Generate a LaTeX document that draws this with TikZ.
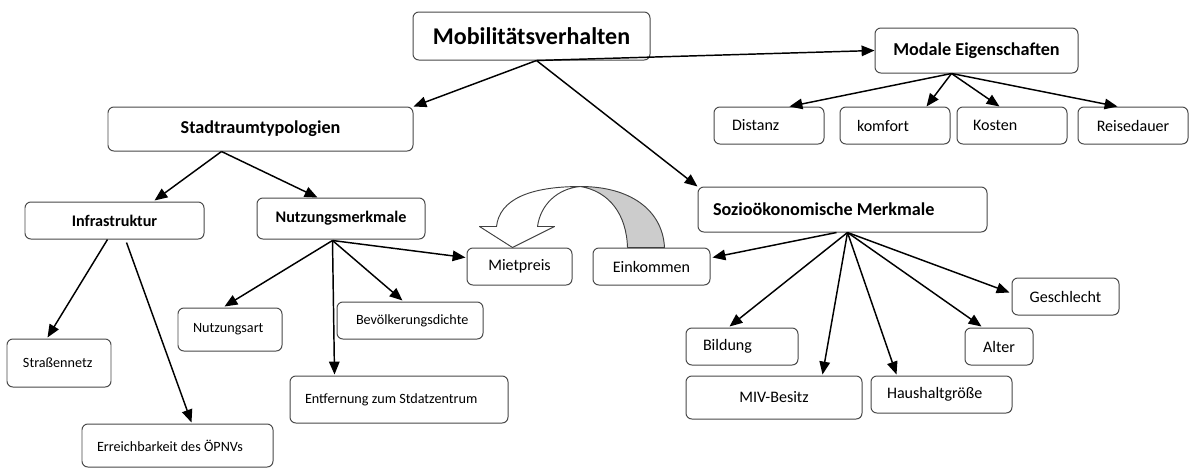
\documentclass[tikz,border=0pt]{standalone}
\usepackage{fontspec}
\setmainfont{Carlito}
\usetikzlibrary{arrows.meta,calc}
\begin{document}
\begin{tikzpicture}[x=0.03cm,y=-0.03cm,
  box/.style={draw=black!72,line width=0.85pt,rounded corners=5pt,fill=white,inner ysep=0pt},
  reg/.style={font=\fontsize{13.7}{16}\selectfont},
  sml/.style={font=\fontsize{12.1}{14.5}\selectfont},
  big/.style={font=\fontsize{20.5}{24}\selectfont\bfseries},
  head/.style={font=\fontsize{15.5}{18.5}\selectfont\bfseries},
  sub/.style={font=\fontsize{13.8}{16.5}\selectfont\bfseries},
  arr/.style={-{Triangle[length=11pt,width=9pt]},line width=1.25pt,black},
  arrowline/.style={draw=black!75,line width=0.8pt,line join=round}]
\useasboundingbox (0,0) rectangle (1194,469);
\newcommand\bx[9]{% style, name, x1,y1,x2,y2, pad, align (l/c), text
  \pgfmathsetmacro\tw{(#5-#3-2*#7)*0.03}%
  \pgfmathsetmacro\th{(#6-#4)*0.03}%
  \pgfmathsetmacro\px{#7*0.03}%
  \node[box,#1,inner xsep=\px cm,minimum height=\th cm]
    (#2) at ({(#3+#5)/2},{(#4+#6)/2}) {\makebox[\tw cm][#8]{#9}};}
% boxes
\bx{big}{mob}{413}{12}{650}{60}{8}{c}{Mobilitätsverhalten}
\bx{head}{stadt}{108}{107}{413}{151}{8}{c}{Stadtraumtypologien}
\bx{head}{mod}{875}{28}{1078}{73}{6}{c}{Modale Eigenschaften}
\bx{head}{sozio}{698}{187}{987}{232}{15}{l}{Sozioökonomische Merkmale}
\bx{reg}{dist}{714}{107}{824}{144}{18}{l}{Distanz}
\bx{reg}{komf}{840}{107}{950}{144}{17}{l}{komfort}
\bx{reg}{kost}{957}{107}{1067}{144}{16}{l}{Kosten}
\bx{reg}{reise}{1078}{107}{1188}{144}{6}{c}{Reisedauer}
\bx{sub}{infra}{25}{202}{204}{239}{6}{c}{Infrastruktur}
\bx{sub}{nutz}{257}{198}{425}{239}{6}{c}{Nutzungsmerkmale}
\bx{sml}{strasse}{7}{339}{111}{387}{16}{l}{Straßennetz}
\bx{sml}{erreich}{82}{424}{273}{467}{15}{l}{Erreichbarkeit des ÖPNVs}
\bx{sml}{nutzart}{178}{308}{282}{351}{15}{l}{Nutzungsart}
\bx{sml}{bev}{337}{302}{483}{339}{19}{l}{Bevölkerungsdichte}
\bx{sml}{entf}{290}{376}{508}{423}{15}{l}{Entfernung zum Stdatzentrum}
\bx{reg}{miet}{467}{248}{572}{285}{6}{c}{Mietpreis}
\bx{reg}{eink}{593}{248}{710}{285}{6}{c}{Einkommen}
\bx{reg}{bild}{686}{328}{798}{365}{17}{l}{Bildung}
\bx{reg}{miv}{686}{376}{862}{419}{6}{c}{MIV-Besitz}
\bx{reg}{haus}{871}{376}{1012}{413}{16}{l}{Haushaltgröße}
\bx{reg}{alter}{965}{328}{1033}{365}{4}{c}{Alter}
\bx{reg}{gesch}{1012}{278}{1119}{315}{6}{c}{Geschlecht}
% curved block arrow from Einkommen to Mietpreis
\coordinate (cTop) at ($(eink.north west)+(-12,-61)$);
\filldraw[arrowline,fill=black!20]
  ($(eink.north west)+(35,0)$) .. controls ($(eink.north west)+(34,-33)$) and ($(eink.north west)+(17,-56)$) .. (cTop)
  .. controls ($(eink.north west)+(37,-61)$) and ($(eink.north west)+(70,-38)$) .. ($(eink.north west)+(72,0)$) -- cycle;
\filldraw[arrowline,fill=white]
  (cTop) .. controls ($(eink.north west)+(-63,-61)$) and ($(eink.north west)+(-93,-48)$) .. ($(miet.north west)+(30,-21)$)
  -- ($(miet.north west)+(13,-21)$) -- ($(miet.north west)+(46,0)$) -- ($(miet.north west)+(88,-21)$)
  -- ($(miet.north west)+(71,-21)$)
  .. controls ($(miet.north west)+(74,-43)$) and ($(miet.north west)+(91,-59)$) .. (cTop);
% connectors
\coordinate (mobS) at ($(mob.south west)+(124,0)$);
\draw[arr] (mobS) -- (stadt.north east);
\draw[arr] (mobS) -- (mod.west);
\draw[arr] (mobS) -- (sozio.north west);
\coordinate (modS) at ($(mod.south west)+(77,0)$);
\draw[arr] (modS) -- ($(dist.north west)+(76,0)$);
\draw[arr] (modS) -- ($(komf.north west)+(87,0)$);
\draw[arr] (modS) -- ($(kost.north west)+(43,0)$);
\draw[arr] (modS) -- ($(reise.north west)+(40,0)$);
\coordinate (stadtS) at ($(stadt.south west)+(114,0)$);
\draw[arr] (stadtS) -- ($(infra.north west)+(130,-1)$);
\draw[arr] (stadtS) -- ($(nutz.north west)+(61,0)$);
\draw[arr] ($(infra.south west)+(83,0)$) -- ($(strasse.north west)+(41,-1)$);
\draw[arr] ($(infra.south west)+(102,3)$) -- ($(erreich.north west)+(110,-1)$);
\coordinate (nutzS) at ($(nutz.south west)+(76,1)$);
\draw[arr] (nutzS) -- ($(nutzart.north west)+(47,-1)$);
\draw[arr] (nutzS) -- ($(entf.north west)+(45,-1)$);
\draw[arr] (nutzS) -- ($(bev.north west)+(66,-1)$);
\draw[arr] (nutzS) -- ($(miet.north west)+(-1,10)$);
\draw[arr] ($(sozio.south west)+(139,0)$) -- ($(eink.north east)+(2,10)$);
\coordinate (sozS) at ($(sozio.south west)+(150,0)$);
\draw[arr] (sozS) -- ($(bild.north west)+(44,-1)$);
\draw[arr] (sozS) -- ($(miv.north west)+(137,-1)$);
\draw[arr] (sozS) -- ($(haus.north west)+(26,-1)$);
\draw[arr] (sozS) -- ($(alter.north west)+(17,-1)$);
\draw[arr] (sozS) -- ($(gesch.north west)+(-2,15)$);
\end{tikzpicture}
\end{document}
